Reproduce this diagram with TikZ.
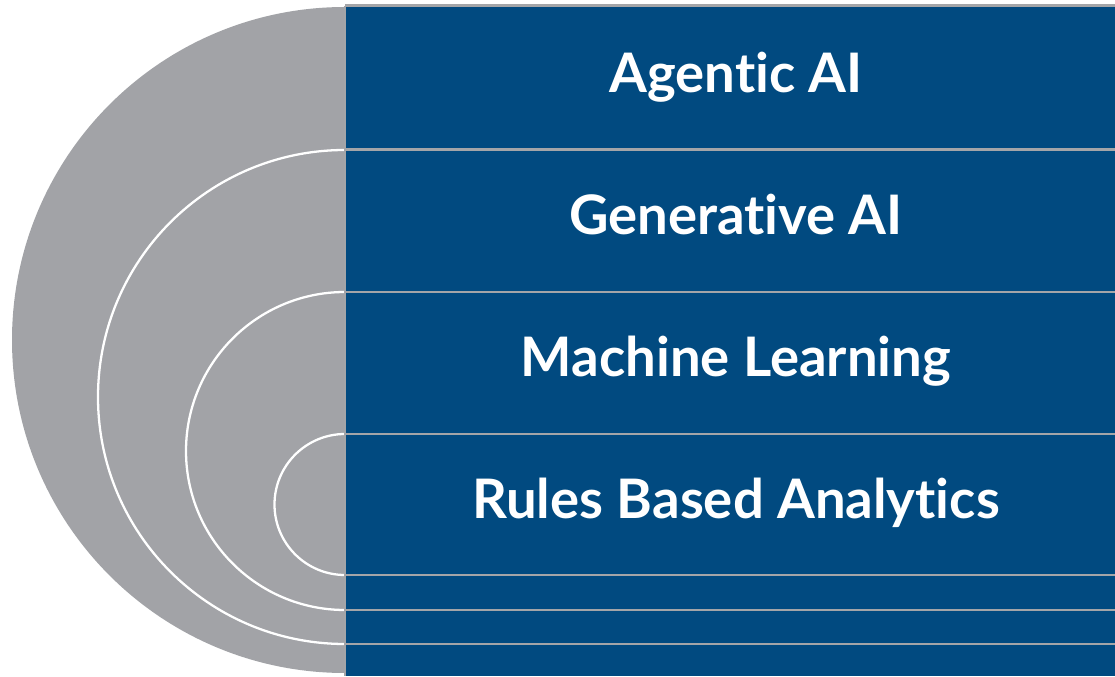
\documentclass[tikz,border=0pt]{standalone}
\usepackage{fontspec}
\setmainfont{Lato}[Ligatures=NoCommon]
\usepackage{tikz}
\usetikzlibrary{positioning}
\definecolor{bandblue}{HTML}{014A80}
\definecolor{halfgray}{HTML}{A2A3A7}
\definecolor{sepgray}{HTML}{A4A5A8}
\tikzstyle{band} = [fill=bandblue, draw=none]
\tikzstyle{half} = [fill=halfgray, draw=none]
\tikzstyle{ring} = [draw=white, line width=1.3pt]
\tikzstyle{sep} = [draw=sepgray, line width=1.7pt]
\tikzstyle{label} = [text=white, anchor=base, inner sep=0pt, font=\fontsize{31}{37}\selectfont\bfseries]

\begin{document}
\begin{tikzpicture}[x=0.02cm, y=0.02cm]
\useasboundingbox (0,0) rectangle (1115,676);

% Shapes
\fill [half] (345,3) arc (270:90:333) -- cycle;
\fill [band] (345,0) rectangle (1115,669);
\draw [ring] (345,526) arc (90:270:247);
\draw [ring] (345,384) arc (90:270:159);
\draw [ring] (345,242) arc (90:270:70.5);

% Lines
\coordinate (top) at (345,670);
\coordinate (bottom) at (345,0);
\draw [sep] (top) -- (bottom);
\draw [sep] (top) -- (1115,670);
\draw [sep] (345,526) -- (1115,526);
\draw [sep] (345,384) -- (1115,384);
\draw [sep] (345,242) -- (1115,242);
\draw [sep] (345,101) -- (1115,101);
\draw [sep] (345,66) -- (1115,66);
\draw [sep] (345,32) -- (1115,32);

% Nodes
\node (agentic) [label] at (736,583) {Agentic AI};
\node (generative) [label] at (736,441) {Generative AI};
\node (ml) [label] at (736,299) {Machine Learning};
\node (rules) [label] at (736,157) {Rules Based Analytics};

\end{tikzpicture}
\end{document}
